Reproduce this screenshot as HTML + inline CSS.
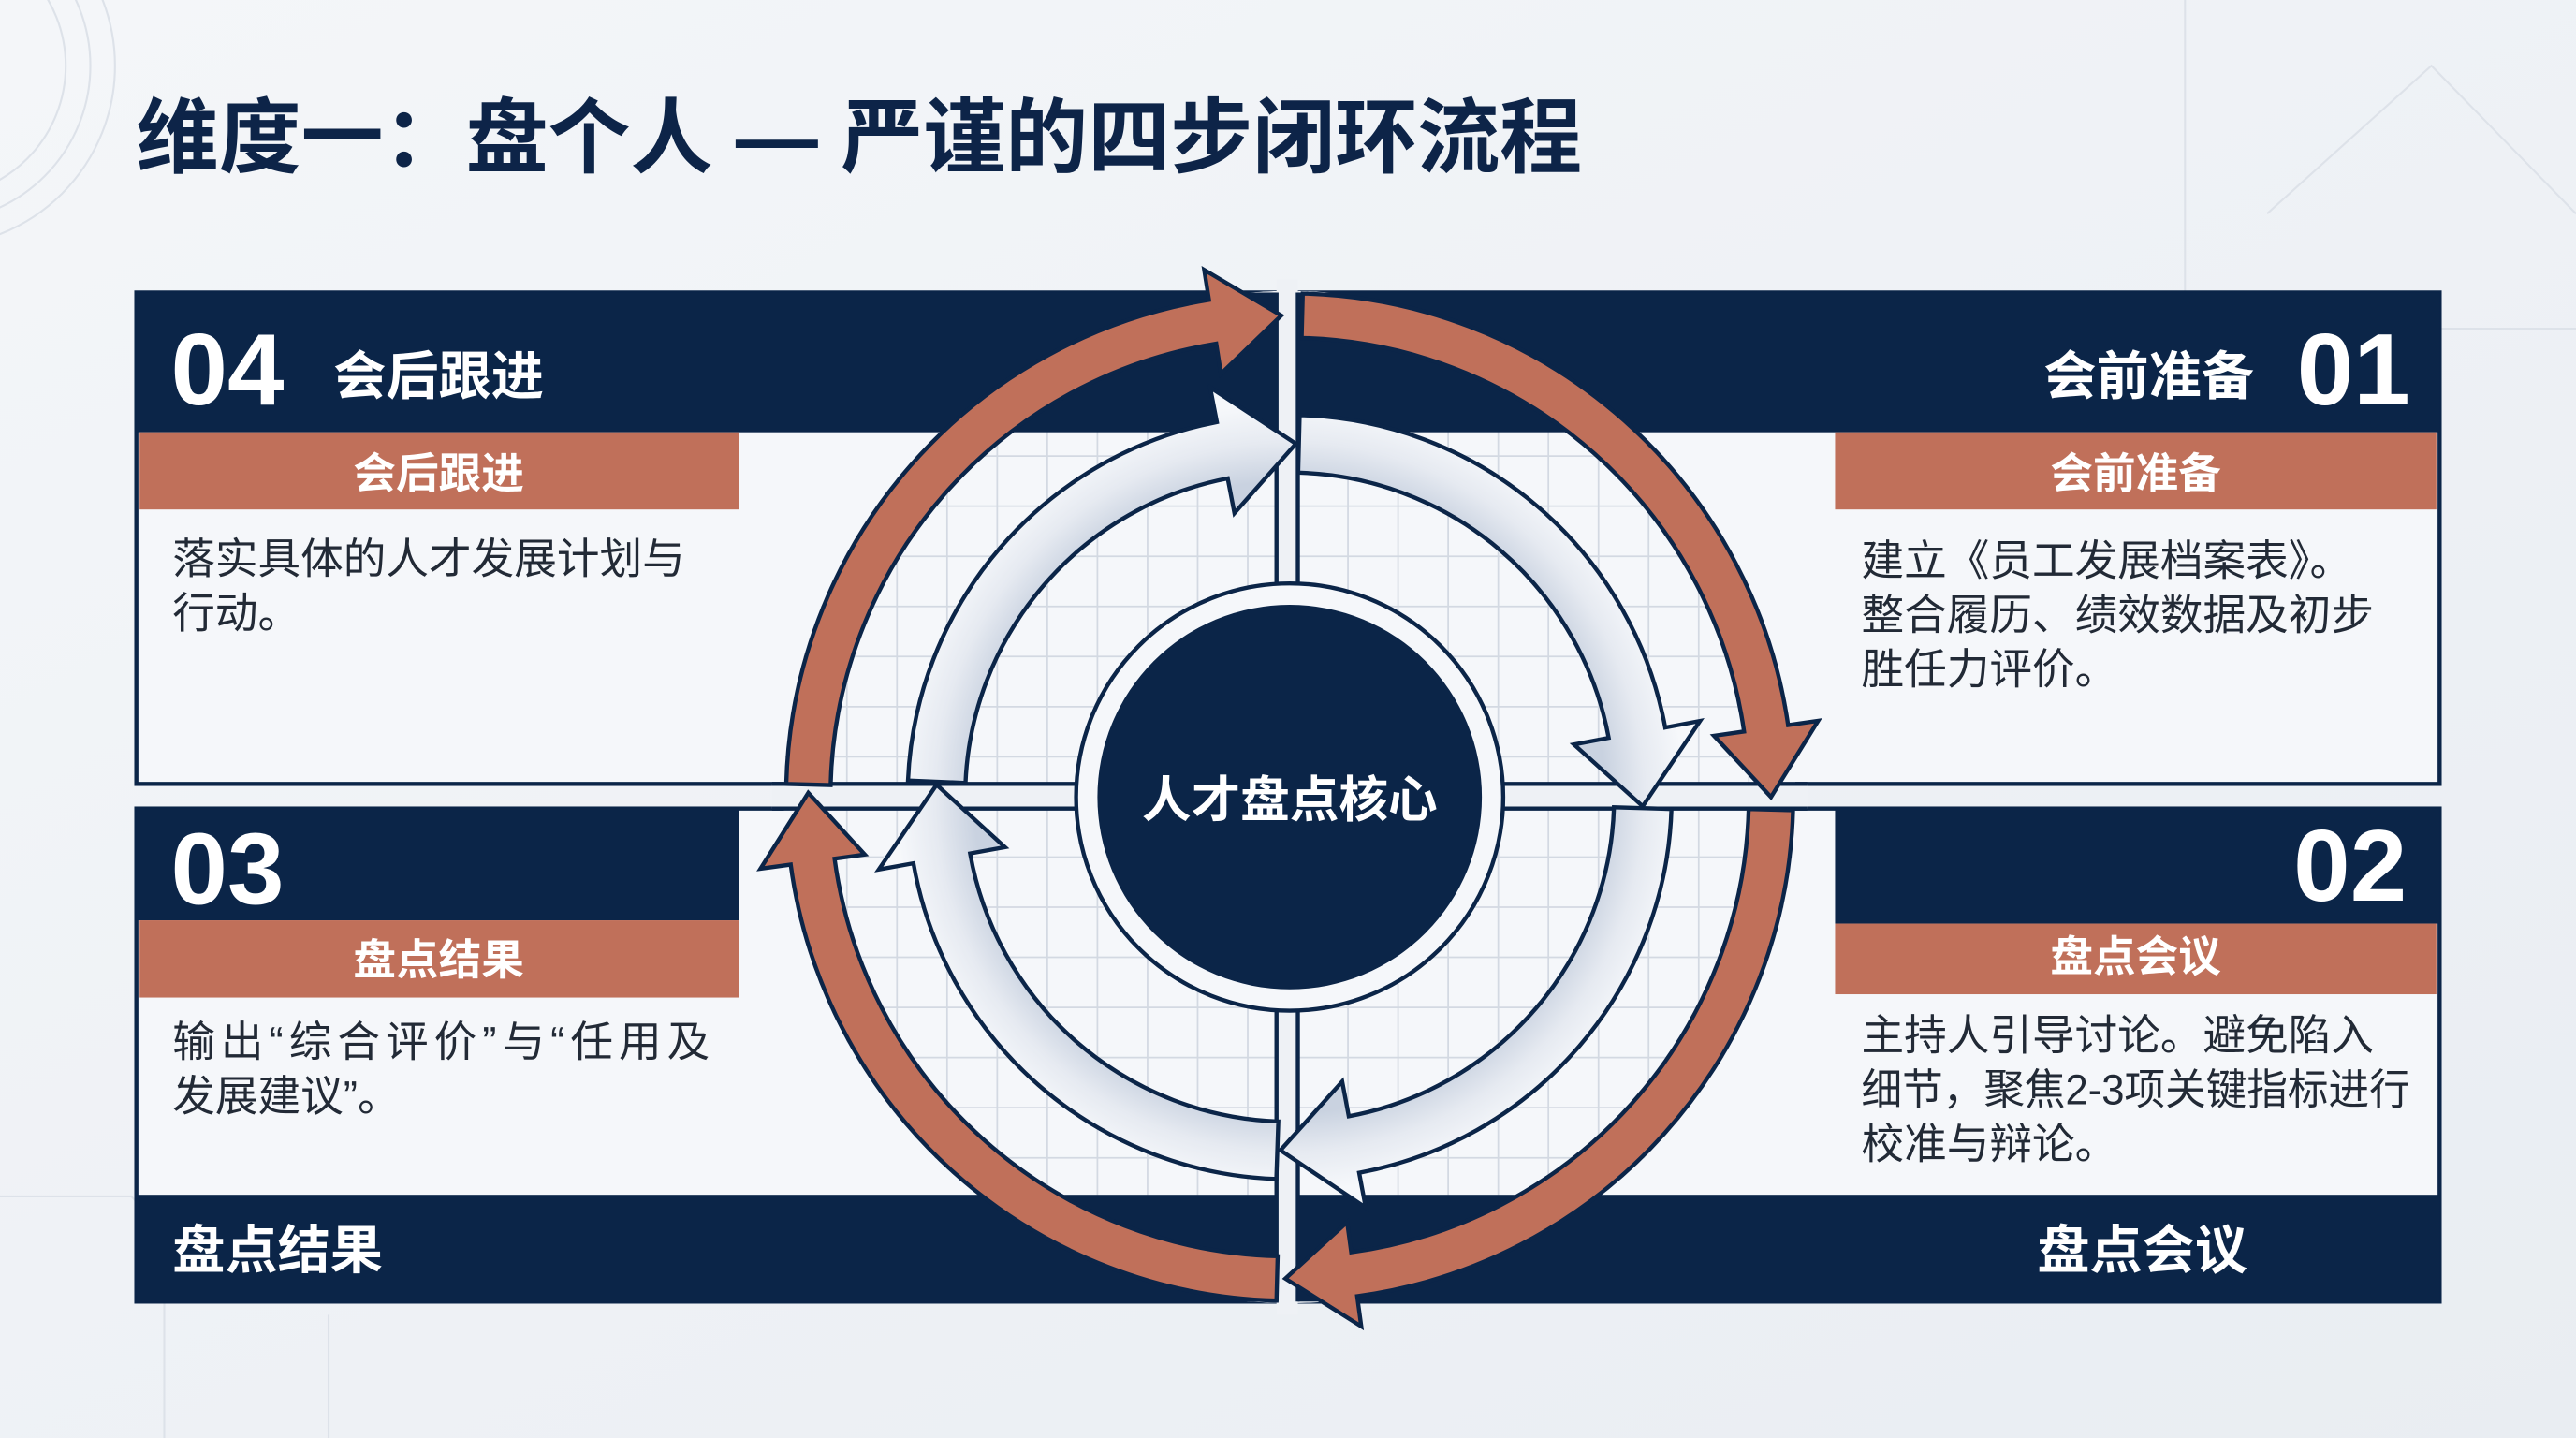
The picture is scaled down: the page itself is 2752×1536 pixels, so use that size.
<!DOCTYPE html>
<html><head><meta charset="utf-8">
<style>
html,body{margin:0;padding:0;background:#eef1f5;}
svg{display:block;}
text{font-family:"Liberation Sans","Noto Sans CJK SC",sans-serif;}
.cj{font-family:"Noto Sans CJK SC",sans-serif;}
</style></head>
<body>
<svg id="s" xmlns="http://www.w3.org/2000/svg" width="2752" height="1536" viewBox="0 0 1568 875" preserveAspectRatio="none">
<defs>
<linearGradient id="bg" x1="0" y1="0" x2="1" y2="1">
<stop offset="0" stop-color="#f4f6f9"/><stop offset="1" stop-color="#e9edf2"/>
</linearGradient>
<radialGradient id="sil" cx="785" cy="485" r="240" gradientUnits="userSpaceOnUse">
<stop offset="0.8" stop-color="#c9d2e0"/><stop offset="0.9" stop-color="#e6eaf1"/><stop offset="1" stop-color="#f6f8fb"/>
</radialGradient>
<clipPath id="cc"><circle cx="785" cy="485" r="308"/></clipPath>
</defs>
<rect width="1568" height="875" fill="url(#bg)"/>
<g fill="none" stroke="#dde2e9" stroke-width="1.2">
<circle cx="-40" cy="40" r="80"/><circle cx="-40" cy="40" r="95"/><circle cx="-40" cy="40" r="110"/>
<path d="M1330 0 L1330 200 L1568 200 M1380 130 L1480 40 L1568 130"/>
<path d="M0 728 L80 728 L100 750 L100 875 M200 800 L200 875"/>
</g>
<text x="83" y="101" font-size="50" font-weight="bold" fill="#0d2448" textLength="880" lengthAdjust="spacingAndGlyphs">维度一：盘个人 — 严谨的四步闭环流程</text>

<g stroke="#0b2548" stroke-width="2.5" fill="#f5f7fa">
<rect x="83" y="178" width="694" height="299"/>
<rect x="790" y="178" width="695" height="299"/>
<rect x="83" y="492" width="694" height="300"/>
<rect x="790" y="492" width="695" height="300"/>
</g>
<g clip-path="url(#cc)">
<circle cx="785" cy="485" r="308" fill="#f5f7fa"/>
<g id="grid" stroke="#d3d9e2" stroke-width="1"></g>
</g>
<rect x="777" y="170" width="13" height="630" fill="#eef1f5"/>
<rect x="470" y="477" width="630" height="15" fill="#eef1f5"/>
<g stroke="#0b2548" stroke-width="2.5">
<line x1="777" y1="178" x2="777" y2="477"/><line x1="790" y1="178" x2="790" y2="477"/>
<line x1="777" y1="492" x2="777" y2="792"/><line x1="790" y1="492" x2="790" y2="792"/>
<line x1="470" y1="477" x2="777" y2="477"/><line x1="790" y1="477" x2="1100" y2="477"/>
<line x1="470" y1="492" x2="777" y2="492"/><line x1="790" y1="492" x2="1100" y2="492"/>
</g>
<g fill="#0b2548">
<rect x="83" y="178" width="694" height="85"/>
<rect x="790" y="178" width="695" height="85"/>
<rect x="83" y="492" width="367" height="68"/>
<rect x="1117" y="492" width="368" height="70"/>
<rect x="83" y="727" width="694" height="65"/>
<rect x="790" y="727" width="695" height="65"/>
</g>
<g fill="#c0705a">
<rect x="85" y="263" width="365" height="47"/>
<rect x="1117" y="263" width="366" height="47"/>
<rect x="85" y="560" width="365" height="47"/>
<rect x="1117" y="562" width="366" height="43"/>
</g>
<g id="rings"></g>
<circle cx="785" cy="485" r="130" fill="#f5f7fa" stroke="#0b2548" stroke-width="2.5"/>
<circle cx="785" cy="485" r="117" fill="#0b2548"/>
<text x="785" y="497" font-size="30" font-weight="bold" fill="#fff" text-anchor="middle">人才盘点核心</text>

<g fill="#fff" font-weight="bold">
<text x="104" y="246" font-size="62">04</text>
<text x="203" y="240" font-size="32">会后跟进</text>
<text x="267" y="297" font-size="26" text-anchor="middle">会后跟进</text>
<text x="1372" y="240" font-size="32" text-anchor="end">会前准备</text>
<text x="1467" y="246" font-size="62" text-anchor="end">01</text>
<text x="1300" y="297" font-size="26" text-anchor="middle">会前准备</text>
<text x="104" y="550" font-size="62">03</text>
<text x="267" y="593" font-size="26" text-anchor="middle">盘点结果</text>
<text x="1465" y="548" font-size="62" text-anchor="end">02</text>
<text x="1300" y="591" font-size="26" text-anchor="middle">盘点会议</text>
<text x="105" y="772" font-size="32">盘点结果</text>
<text x="1368" y="772" font-size="32" text-anchor="end">盘点会议</text>
</g>
<g fill="#222a36" font-size="26" class="cj">
<text x="105" y="349">落实具体的人才发展计划与</text>
<text x="105" y="382">行动。</text>
<text x="1133" y="350">建立《员工发展档案表》。</text>
<text x="1133" y="383">整合履历、绩效数据及初步</text>
<text x="1133" y="416">胜任力评价。</text>
<text x="105" y="643" textLength="327">输出“综合评价”与“任用及</text>
<text x="105" y="676">发展建议”。</text>
<text x="1133" y="639">主持人引导讨论。避免陷入</text>
<text x="1133" y="672" textLength="334" lengthAdjust="spacingAndGlyphs">细节，聚焦2-3项关键指标进行</text>
<text x="1133" y="705">校准与辩论。</text>
</g>
<script>
(function(){
var NS="http://www.w3.org/2000/svg",cx=785,cy=485;
var g=document.getElementById('grid'),s='';
for(var x=485;x<=1100;x+=30.5){s+='M'+x+' 170L'+x+' 800';}
for(var y=186;y<=800;y+=30.5){s+='M470 '+y+'L1100 '+y;}
var p=document.createElementNS(NS,'path');p.setAttribute('d',s);g.appendChild(p);
function pt(r,a){a=a*Math.PI/180;return (cx+r*Math.sin(a)).toFixed(1)+' '+(cy-r*Math.cos(a)).toFixed(1);}
function arrow(R,w,hw,a1,a2,hl,fill){
 var ro=R+w/2,ri=R-w/2,ab=a2-hl/R*180/Math.PI;
 var d='M'+pt(ro,a1)+' A'+ro+' '+ro+' 0 0 1 '+pt(ro,ab)+' L'+pt(R+hw,ab)+' L'+pt(R,a2)+' L'+pt(R-hw,ab)+' L'+pt(ri,ab)+' A'+ri+' '+ri+' 0 0 0 '+pt(ri,a1)+' Z';
 var e=document.createElementNS(NS,'path');e.setAttribute('d',d);e.setAttribute('fill',fill);
 e.setAttribute('stroke','#0b2548');e.setAttribute('stroke-width','2.5');e.setAttribute('stroke-linejoin','miter');
 document.getElementById('rings').appendChild(e);
}
var O='#c0705a';
arrow(293,27,32,1.5,90,42,O);
arrow(293,27,32,91.5,180.5,42,O);
arrow(293,27,32,181.5,270.5,42,O);
arrow(293,27,32,271.5,359,42,O);
var S='url(#sil)';
arrow(215,35,39,1.5,91.5,45,S);
arrow(215,35,39,91.8,181.5,45,S);
arrow(215,35,39,182,272,45,S);
arrow(215,35,39,272.5,361,45,S);
})();
</script>
</svg>
</body></html>
